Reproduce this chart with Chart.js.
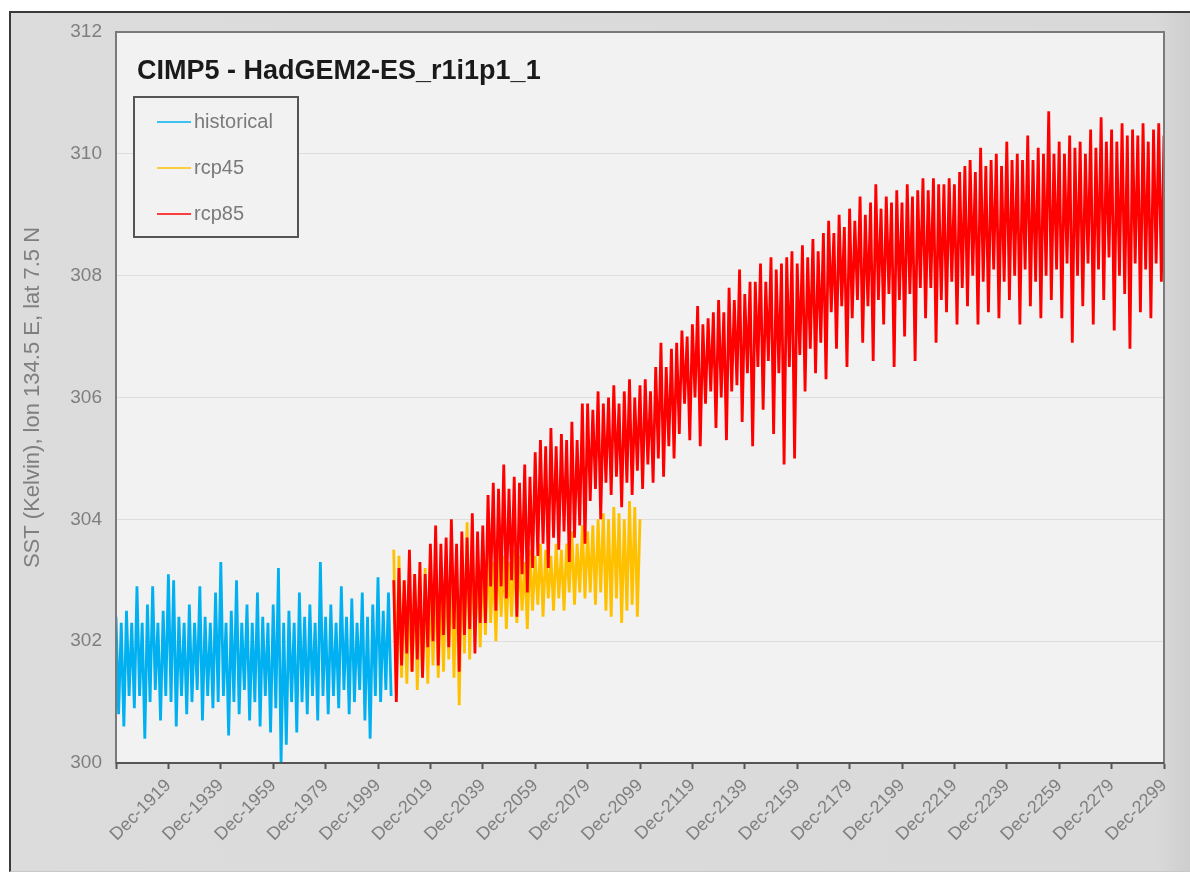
<!DOCTYPE html>
<html><head><meta charset="utf-8">
<script src="https://cdn.jsdelivr.net/npm/chart.js@4/dist/chart.umd.min.js"></script>
<style>
html,body{margin:0;padding:0;background:#fff;width:1190px;height:873px;overflow:hidden;}
#frame{position:absolute;left:9px;top:11px;width:1181px;height:858px;border-top:2px solid #3a3a3a;border-left:2px solid #3a3a3a;border-bottom:1px solid #c8c8c8;background:linear-gradient(to right,#dcdcdc 0%,#d9d9d9 97%,#cdcdcd 100%);}
#c{position:absolute;left:0;top:0;}
</style></head><body>
<div id="frame"></div>
<canvas id="c" width="1190" height="873"></canvas>
<script>
// ---- data (x = years after Dec-1899, one reading per year, alternating peak / trough) ----
const chartTitle = 'CIMP5 - HadGEM2-ES_r1i1p1_1';
const yAxisTitle = 'SST (Kelvin), lon 134.5 E, lat 7.5 N';
const seriesNames = ['historical', 'rcp45', 'rcp85'];
const tickLabels = ['Dec-1919','Dec-1939','Dec-1959','Dec-1979','Dec-1999','Dec-2019','Dec-2039','Dec-2059','Dec-2079','Dec-2099',
  'Dec-2119','Dec-2139','Dec-2159','Dec-2179','Dec-2199','Dec-2219','Dec-2239','Dec-2259','Dec-2279','Dec-2299'];
const historicalStart = 0;
const rcpStart = 106;
const historical = [302.4,300.8,302.3,300.6,302.5,301.1,302.3,300.9,302.9,301.1,
 302.3,300.4,302.6,301.0,302.9,301.2,302.3,300.7,302.5,301.1,
 303.1,301.0,303.0,300.6,302.4,301.1,302.3,300.8,302.6,301.0,
 302.3,301.2,302.9,300.7,302.4,301.1,302.3,300.9,302.8,301.0,
 303.3,301.1,302.3,300.45,302.5,301.0,303.0,300.8,302.3,301.2,
 302.6,300.7,302.3,301.0,302.8,300.6,302.4,301.1,302.3,300.5,
 302.6,300.9,303.2,300.0,302.3,300.3,302.5,301.0,302.3,300.5,
 302.8,301.0,302.4,300.8,302.6,301.1,302.3,300.7,303.3,301.1,
 302.4,300.8,302.6,301.1,302.3,300.9,302.9,301.2,302.4,300.8,
 302.7,301.0,302.3,301.2,302.8,300.7,302.4,300.4,302.6,301.1,
 303.05,301.0,302.5,301.2,302.8,301.1];
const rcp45 = [303.5,301.1,303.4,301.4,303.0,301.3,302.9,301.5,303.1,301.2,
 302.9,301.4,303.2,301.3,303.0,301.6,303.1,301.4,303.0,301.5,
 303.3,301.7,303.2,301.4,303.3,300.95,303.4,301.8,303.95,301.7,
 303.6,302.0,303.3,301.9,303.4,302.1,303.5,302.3,303.3,302.0,
 303.5,302.4,303.4,302.2,303.3,302.4,303.5,302.3,303.4,302.5,
 303.3,302.2,303.5,302.5,303.4,302.6,303.6,302.4,303.5,302.7,
 303.4,302.5,303.6,302.7,303.5,302.5,303.6,302.8,303.8,302.6,
 303.6,302.8,303.9,302.7,303.8,302.8,303.9,302.6,304.0,302.8,
 304.1,302.5,304.0,302.4,304.2,302.7,304.1,302.3,304.0,302.5,
 304.3,302.6,304.2,302.4,304.0];
const rcp85 = [303.0,301.0,303.2,301.6,303.0,301.8,303.5,301.5,303.1,301.7,
 303.3,301.4,303.1,301.9,303.6,302.0,303.9,301.6,303.6,302.1,
 303.7,301.9,304.0,302.2,303.6,301.5,303.8,302.1,303.7,302.2,
 304.1,301.8,303.8,302.3,303.9,302.3,304.4,302.9,304.6,302.5,
 304.5,302.9,304.9,302.7,304.5,303.0,304.7,302.4,304.6,303.1,
 304.9,302.8,304.7,303.2,305.1,303.4,305.3,303.6,305.2,303.2,
 305.5,303.7,305.2,303.5,305.4,303.8,305.3,303.3,305.6,303.7,
 305.3,303.9,305.9,303.6,305.9,304.3,305.8,304.5,306.1,304.0,
 305.9,304.6,306.0,304.4,306.2,304.7,305.9,304.2,306.1,304.6,
 306.3,304.4,306.0,304.8,306.2,304.5,306.3,304.9,306.1,304.6,
 306.5,305.0,306.9,304.7,306.5,305.2,306.8,305.0,306.9,305.4,
 307.1,305.9,307.0,305.3,307.2,306.0,307.5,305.2,307.2,305.9,
 307.3,306.1,307.4,305.5,307.6,306.0,307.4,305.3,307.8,306.1,
 307.6,306.2,308.1,305.6,307.7,306.4,307.9,305.2,307.9,306.5,
 308.2,305.8,307.9,306.6,308.3,305.4,308.1,306.4,308.2,304.9,
 308.3,306.5,308.4,305.0,308.2,306.7,308.5,306.1,308.3,306.8,
 308.6,306.4,308.4,306.9,308.7,306.3,308.9,307.4,308.7,306.8,
 309.0,307.5,308.8,306.5,309.1,307.3,308.9,307.6,309.3,306.9,
 309.0,307.5,309.2,306.6,309.5,307.6,309.1,307.2,309.3,307.7,
 309.2,306.5,309.4,307.6,309.2,307.0,309.5,307.7,309.3,306.6,
 309.4,307.8,309.6,307.3,309.4,307.8,309.6,306.9,309.5,307.6,
 309.5,307.4,309.6,307.9,309.5,307.2,309.7,307.8,309.8,307.5,
 309.9,308.0,309.7,307.2,310.1,307.9,309.8,307.4,309.9,308.1,
 310.0,307.3,309.8,307.9,310.2,307.6,309.9,308.0,310.0,307.2,
 309.9,308.1,310.3,307.5,309.9,307.9,310.1,307.3,310.0,308.0,
 310.7,307.6,310.0,308.1,310.2,307.3,310.0,308.2,310.3,306.9,
 310.1,308.0,310.2,307.5,310.0,308.2,310.4,307.2,310.1,308.1,
 310.6,307.6,310.2,308.3,310.4,307.1,310.2,308.0,310.5,307.7,
 310.3,306.8,310.4,308.2,310.3,307.4,310.5,308.1,310.2,307.3,
 310.4,308.2,310.5,307.9,310.3];
const seriesColors = ['#00b0f0', '#ffc000', '#ff0000'];

// ---- helpers ----
const FONT = "'Liberation Sans', Arial, Helvetica, sans-serif";
const toXY = (values, start) => values.map((v, i) => ({ x: start + i, y: v }));

const plotBg = {
  id: 'plotBg',
  beforeDraw(chart) {
    const { ctx, chartArea: a } = chart;
    ctx.save();
    ctx.fillStyle = '#f2f2f2';
    ctx.fillRect(a.left, a.top, a.right - a.left, a.bottom - a.top);
    ctx.restore();
  }
};
const plotFrame = {
  id: 'plotFrame',
  afterDatasetsDraw(chart) {
    const { ctx, chartArea: a } = chart;
    ctx.save();
    ctx.strokeStyle = '#7a7a7a';
    ctx.lineWidth = 2;
    ctx.strokeRect(a.left, a.top, a.right - a.left, a.bottom - a.top);
    ctx.strokeStyle = '#555';
    ctx.beginPath(); ctx.moveTo(a.left, a.bottom); ctx.lineTo(a.right, a.bottom); ctx.stroke();
    ctx.restore();
  }
};
const insideText = {
  id: 'insideText',
  afterDraw(chart, args, opts) {
    const { ctx, chartArea: a } = chart;
    ctx.save();
    ctx.textAlign = 'left';
    ctx.textBaseline = 'middle';
    ctx.font = 'bold 27px ' + FONT;
    ctx.fillStyle = '#1a1a1a';
    ctx.fillText(opts.title, a.left + 21, a.top + 40);
    const bx = a.left + 18, by = a.top + 65, bw = 164, bh = 140;
    ctx.fillStyle = '#f2f2f2';
    ctx.fillRect(bx, by, bw, bh);
    ctx.strokeStyle = '#555';
    ctx.lineWidth = 2;
    ctx.strokeRect(bx, by, bw, bh);
    ctx.font = '20px ' + FONT;
    chart.data.datasets.forEach((ds, i) => {
      const y = by + 25 + i * 46;
      ctx.strokeStyle = ds.borderColor;
      ctx.lineWidth = 1.5;
      ctx.beginPath(); ctx.moveTo(bx + 23, y); ctx.lineTo(bx + 57, y); ctx.stroke();
      ctx.fillStyle = '#7a7a7a';
      ctx.fillText(ds.label, bx + 60, y);
    });
    ctx.restore();
  }
};

new Chart(document.getElementById('c'), {
  type: 'line',
  data: {
    datasets: [
      { label: seriesNames[0], data: toXY(historical, historicalStart), borderColor: seriesColors[0], order: 2 },
      { label: seriesNames[1], data: toXY(rcp45, rcpStart), borderColor: seriesColors[1], order: 1 },
      { label: seriesNames[2], data: toXY(rcp85, rcpStart), borderColor: seriesColors[2], order: 0 }
    ]
  },
  options: {
    responsive: false,
    animation: false,
    devicePixelRatio: 1,
    layout: { padding: { top: 32, right: 26, left: 0, bottom: 0 } },
    elements: {
      line: { borderWidth: 2.8, tension: 0, fill: false, borderJoinStyle: 'miter' },
      point: { radius: 0, hoverRadius: 0 }
    },
    plugins: {
      legend: { display: false },
      title: { display: false },
      tooltip: { enabled: false },
      insideText: { title: chartTitle }
    },
    scales: {
      x: {
        type: 'linear',
        min: 0, max: 400,
        afterFit(scale) { scale.height = 110; },
        ticks: {
          stepSize: 20, autoSkip: false, maxRotation: 45, minRotation: 45,
          color: '#7f7f7f', padding: 6,
          font: { family: FONT, size: 18 },
          callback(value) { const k = Math.round(value / 20); return k === 0 ? '' : tickLabels[k - 1]; }
        },
        grid: { drawOnChartArea: false, drawTicks: true, tickLength: 6, tickColor: '#555', tickWidth: 2 },
        border: { color: '#555', width: 2 }
      },
      y: {
        min: 300, max: 312,
        afterFit(scale) { scale.width = 116; },
        ticks: { stepSize: 2, color: '#7f7f7f', padding: 14, font: { family: FONT, size: 19 } },
        grid: { color: '#dedede', lineWidth: 1, drawTicks: false },
        border: { display: false },
        title: { display: true, text: yAxisTitle, color: '#7f7f7f', font: { family: FONT, size: 22 }, padding: { top: 20, bottom: 0 } }
      }
    }
  },
  plugins: [plotBg, plotFrame, insideText]
});
</script></body></html>
